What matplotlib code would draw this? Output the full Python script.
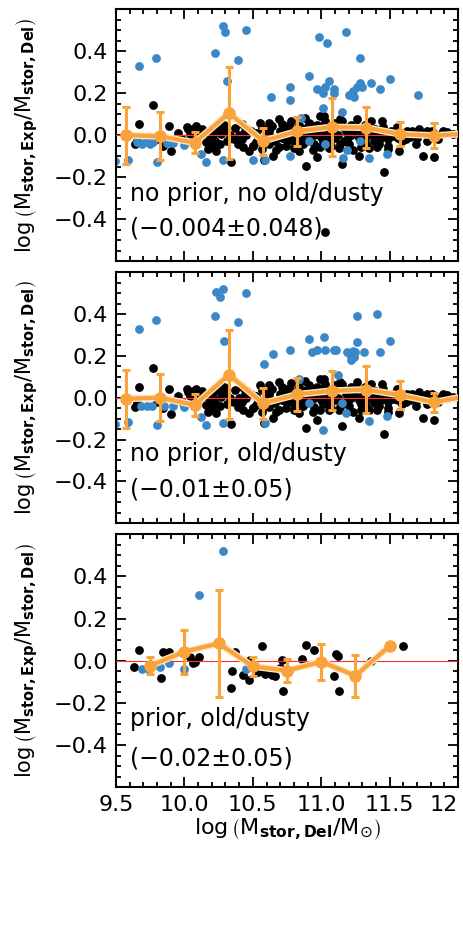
import numpy as np
import matplotlib
matplotlib.use("Agg")
import matplotlib.pyplot as plt
from matplotlib.ticker import MultipleLocator, FixedLocator, FixedFormatter

plt.rcParams['font.family'] = ['DejaVu Sans']
plt.rcParams['mathtext.fontset'] = 'dejavusans'

BLACK = '#000000'
BLUE = '#3b88c8'
ORANGE = '#f9a33a'

# black points (shared by the two "no prior" panels)
black_x = [9.636, 9.654, 9.668, 9.77, 9.844, 9.888, 9.905, 9.80, 10.027, 10.044,
           10.088, 10.117, 10.06, 10.16, 10.173, 10.198, 10.222, 10.234, 10.21, 10.25,
           10.283, 10.30, 10.31, 10.34, 10.37, 10.42, 10.395, 10.43, 10.47, 10.45,
           10.49, 10.52, 10.54, 10.566, 10.615, 10.64, 10.69, 10.71, 10.75, 10.66,
           10.69, 10.71, 10.615, 10.566, 10.65, 10.58, 10.75, 10.786, 10.81, 10.835,
           10.80, 10.885, 10.92, 10.93, 10.97, 11.005, 11.03, 11.054, 11.10, 11.14,
           10.944, 10.99, 10.97, 10.89, 11.14, 11.10, 11.054, 10.885, 10.85, 11.154,
           11.18, 11.166, 11.154, 11.264, 11.24, 11.276, 11.29, 11.276, 11.36, 11.386,
           11.435, 11.447, 11.484, 11.51, 11.557, 11.57, 11.63, 11.715, 11.776, 11.74,
           11.825, 11.92, 11.96, 11.46, 11.41, 11.484, 11.70, 11.874,
           10.95, 11.0, 11.05, 11.08, 11.12, 11.2, 11.22, 11.3, 11.33, 11.38,
           11.42, 11.47, 11.53, 11.6, 11.65, 11.8, 10.9, 10.86, 10.6, 10.63,
           10.52, 10.4, 10.36, 10.62, 10.78, 10.88, 10.99, 11.02, 11.06, 11.2,
           11.33, 11.22, 10.14, 10.19, 10.27, 10.44, 10.5, 10.73, 10.83, 11.0,
           10.42, 10.46, 10.5, 10.55, 10.58, 10.62, 10.67, 10.7, 10.74, 10.77,
           10.8, 10.84, 10.87, 10.91, 10.94, 10.97, 11.01, 11.04, 11.07, 11.1,
           11.13, 11.16, 11.19, 11.23, 11.26, 11.29, 11.32, 11.35, 11.39, 11.42,
           11.45, 11.49, 11.52, 11.55, 11.59, 11.62, 11.66, 11.69, 11.73, 11.77,
           11.81, 11.85, 11.89, 9.95, 9.98, 10.02, 10.1, 10.13, 10.2, 10.26,
           10.29, 10.33]
black_y = [-0.042, -0.027, 0.052, 0.143, -0.05, 0.042, -0.077, -0.02, 0.028, 0.008,
           0.044, 0.02, 0.03, -0.034, -0.066, -0.05, -0.027, -0.074, 0.0, 0.03,
           0.044, 0.02, -0.03, -0.127, 0.036, 0.052, -0.042, -0.058, -0.074, 0.0,
           0.02, -0.034, -0.011, 0.036, 0.02, 0.044, 0.075, 0.052, 0.044, -0.027,
           -0.058, -0.011, -0.042, -0.066, -0.097, -0.12, -0.027, -0.019, -0.042, -0.074,
           0.01, 0.036, 0.052, 0.005, 0.028, 0.044, 0.067, 0.02, 0.06, 0.075,
           -0.042, -0.058, -0.105, -0.147, -0.042, -0.011, -0.027, -0.027, -0.003, 0.067,
           0.02, -0.027, -0.136, 0.075, 0.02, -0.011, -0.058, -0.097, 0.067, -0.027,
           -0.011, 0.067, -0.019, 0.02, -0.011, -0.074, 0.02, 0.028, 0.02, -0.097,
           -0.105, 0.013, 0.005, -0.175, -0.058, -0.066, -0.011, 0.005,
           0.0, -0.01, 0.0, 0.01, 0.0, -0.005, 0.0, 0.01, -0.01, 0.0,
           0.005, 0.0, -0.005, 0.0, -0.01, 0.0, 0.01, 0.03, 0.0, -0.01,
           0.01, 0.0, -0.02, 0.06, 0.07, 0.08, 0.09, 0.09, -0.06, -0.04,
           -0.04, 0.05, 0.01, -0.01, 0.005, 0.02, -0.05, 0.03, -0.02, 0.0,
           -0.02, 0.03, -0.05, 0.06, -0.03, 0.03, -0.07, 0.02, -0.05, 0.04,
           -0.06, 0.05, -0.04, 0.06, -0.07, 0.05, -0.03, 0.03, -0.05, 0.04,
           -0.06, 0.04, -0.02, -0.07, 0.04, -0.03, 0.05, -0.06, 0.03, -0.04,
           0.04, -0.05, 0.01, 0.04, -0.03, -0.02, 0.02, -0.04, 0.01, -0.03,
           0.02, -0.02, 0.02, 0.01, -0.02, 0.04, -0.01, 0.03, 0.02, -0.04,
           0.05, 0.0]
# lone black point behind the first panel's statistic
extra1_x = [11.03]
extra1_y = [-0.46]

# blue points, panel 1
blue1_x = [9.495, 9.59, 9.67, 9.79, 9.80, 9.65, 9.72, 9.77, 9.92, 9.995,
           10.12, 10.156, 10.22, 10.28, 10.30, 10.31, 10.28, 10.39, 10.45, 10.50,
           10.59, 10.63, 10.77, 10.77, 10.77, 10.85, 10.91, 10.91, 10.98, 11.04,
           10.97, 11.01, 11.01, 11.03, 11.06, 11.09, 11.09, 11.03, 11.15, 11.18,
           11.19, 11.16, 11.20, 11.23, 11.24, 11.26, 11.28, 11.28, 11.30, 11.28,
           11.35, 11.36, 11.43, 11.48, 11.50, 11.71, 9.69, 9.75, 9.87]
blue1_y = [-0.125, -0.118, 0.33, 0.37, -0.13, -0.034, -0.027, -0.034, -0.035, -0.045,
           -0.09, -0.128, 0.39, 0.52, 0.49, 0.26, -0.118, 0.36, 0.50, -0.118,
           -0.118, 0.18, 0.23, 0.17, -0.10, 0.08, -0.03, 0.28, 0.47, 0.44,
           0.22, 0.20, 0.13, 0.23, 0.26, 0.22, 0.20, -0.04, 0.11, 0.49,
           -0.07, -0.11, 0.19, 0.21, 0.18, 0.23, 0.25, 0.37, 0.23, -0.03,
           -0.11, 0.25, 0.22, -0.09, 0.27, 0.19, -0.04, -0.04, -0.035]

# blue points, panel 2
blue2_x = [9.495, 9.59, 9.67, 9.79, 9.80, 9.68, 9.73, 9.76, 9.85, 9.92,
           9.995, 10.12, 10.16, 10.22, 10.23, 10.28, 10.26, 10.29, 10.28, 10.39,
           10.45, 10.59, 10.585, 10.65, 10.77, 10.84, 10.91, 10.91, 10.93, 10.97,
           11.02, 11.01, 11.03, 11.09, 11.11, 11.12, 11.15, 11.18, 11.19, 11.21,
           11.215, 11.23, 11.22, 11.25, 11.26, 11.24, 11.26, 11.31, 11.35, 11.41,
           11.43, 11.48, 11.50]
blue2_y = [-0.126, -0.117, 0.33, 0.37, -0.13, -0.038, -0.038, -0.038, -0.038, -0.038,
           -0.042, -0.09, -0.13, 0.39, 0.506, 0.52, 0.48, 0.27, -0.12, 0.36,
           0.50, -0.12, 0.16, 0.21, 0.23, 0.09, -0.027, 0.28, 0.22, 0.23,
           0.29, -0.153, 0.23, 0.23, 0.23, 0.11, -0.027, -0.071, 0.22, 0.21,
           0.20, 0.225, 0.18, 0.22, 0.265, 0.195, 0.39, 0.22, -0.11, 0.40,
           0.22, -0.087, 0.27]

# panel 3 points
black3_x = [9.63, 9.67, 9.83, 9.84, 9.89, 10.04, 10.06, 10.11, 10.075, 10.34,
            10.345, 10.37, 10.43, 10.47, 10.48, 10.54, 10.57, 10.59, 10.64, 10.66,
            10.70, 10.71, 10.72, 10.86, 10.89, 10.95, 11.09, 11.11, 11.12, 11.13,
            11.36, 11.60]
black3_y = [-0.032, 0.05, -0.08, 0.04, 0.04, 0.016, -0.013, 0.019, -0.008, -0.13,
            -0.05, 0.04, -0.066, -0.09, 0.003, -0.055, 0.07, -0.063, -0.068, -0.071,
            -0.035, 0.003, -0.142, 0.008, 0.076, 0.05, -0.071, 0.03, 0.02, -0.142,
            0.0, 0.07]
blue3_x = [9.69, 9.74, 9.82, 9.89, 9.995, 10.11, 10.28, 10.45]
blue3_y = [-0.04, -0.04, -0.032, -0.013, -0.04, 0.31, 0.52, -0.04]

# binned medians (orange)
bin1_x = [9.575, 9.825, 10.075, 10.325, 10.575, 10.825, 11.075, 11.325, 11.575, 11.825, 12.075]
bin1_y = [0.0, -0.005, -0.036, 0.105, -0.028, 0.019, 0.039, 0.036, 0.005, -0.002, 0.008]
bin1_e = [0.135, 0.115, 0.05, 0.218, 0.064, 0.069, 0.139, 0.097, 0.058, 0.061, 0.06]

bin2_x = bin1_x
bin2_y = [-0.005, 0.0, -0.035, 0.11, -0.027, 0.016, 0.033, 0.039, 0.013, -0.022, 0.01]
bin2_e = [0.138, 0.112, 0.053, 0.213, 0.074, 0.079, 0.093, 0.113, 0.068, 0.046, 0.05]

bin3_x = [9.75, 10.0, 10.25, 10.5, 10.75, 11.0, 11.25, 11.5]
bin3_y = [-0.024, 0.043, 0.082, -0.027, -0.047, -0.005, -0.071, 0.07]
bin3_e = [0.04, 0.105, 0.255, 0.045, 0.055, 0.085, 0.1, 0.0]

labels = ['no prior, no old/dusty', 'no prior, old/dusty', 'prior, old/dusty']
stats = ['(\u22120.004\u00b10.048)', '(\u22120.01\u00b10.05)', '(\u22120.02\u00b10.05)']
text_y = [(-0.28, -0.444), (-0.27, -0.437), (-0.277, -0.466)]

ylab = r'$\log\left(\mathrm{M}_{\mathbf{stor,Exp}}/\mathrm{M}_{\mathbf{stor,Del}}\right)$'
xlab = r'$\log\left(\mathrm{M}_{\mathbf{stor,Del}}/\mathrm{M}_{\odot}\right)$'

fig = plt.figure(figsize=(4.63, 9.26), dpi=100)
rects = [[0.2505, 0.718, 0.739, 0.272],
         [0.2505, 0.435, 0.739, 0.271],
         [0.2505, 0.150, 0.739, 0.273]]

panels = [(black_x + extra1_x, black_y + extra1_y, blue1_x, blue1_y, bin1_x, bin1_y, bin1_e),
          (black_x, black_y, blue2_x, blue2_y, bin2_x, bin2_y, bin2_e),
          (black3_x, black3_y, blue3_x, blue3_y, bin3_x, bin3_y, bin3_e)]

for i, (bx, by, ux, uy, mx, my, me) in enumerate(panels):
    ax = fig.add_axes(rects[i])
    ax.scatter(bx, by, s=40, color=BLACK, lw=0, zorder=2)
    ax.scatter(ux, uy, s=40, color=BLUE, lw=0, zorder=2)
    ax.axhline(0, color='#ff3030', lw=0.8, zorder=3)
    # light halo under the median line
    ax.plot(mx, my, color='#fde3c0', lw=5, zorder=4, solid_capstyle='round')
    ax.plot(mx, my, color=ORANGE, lw=3, zorder=4.5)
    ax.errorbar(mx, my, yerr=me, fmt='o', color=ORANGE, ms=8, elinewidth=2.2,
                capsize=3, capthick=2.2, zorder=5)

    ax.set_xlim(9.5, 12)
    ax.set_ylim(-0.6, 0.6)
    ax.yaxis.set_major_locator(FixedLocator([-0.4, -0.2, 0.0, 0.2, 0.4]))
    ax.yaxis.set_minor_locator(MultipleLocator(0.05))
    ax.xaxis.set_major_locator(MultipleLocator(0.5))
    ax.xaxis.set_minor_locator(MultipleLocator(0.1))
    ax.tick_params(which='both', direction='in', top=True, right=True, width=1.3)
    ax.tick_params(which='major', length=7, labelsize=16, pad=6)
    ax.tick_params(which='minor', length=3.5)
    ax.set_yticklabels(['\u22120.4', '\u22120.2', '0.0', '0.2', '0.4'])
    for sp in ax.spines.values():
        sp.set_linewidth(1.5)

    if i < 2:
        ax.set_xticklabels([])
    else:
        ax.xaxis.set_major_locator(FixedLocator([9.5, 10.0, 10.5, 11.0, 11.5, 12.0]))
        ax.xaxis.set_major_formatter(FixedFormatter(['9.5', '10.0', '10.5', '11.0', '11.5', '12']))
        ax.get_xticklabels()[-1].set_ha('right')

    ax.set_ylabel(ylab, fontsize=15)
    ax.yaxis.set_label_coords(-0.222, 0.5)

    ax.text(9.605, text_y[i][0], labels[i], fontsize=17, va='center', ha='left', zorder=6)
    ax.text(9.605, text_y[i][1], stats[i], fontsize=17, va='center', ha='left', zorder=6)

fig.text(287 / 463, 1 - 829 / 926, xlab, fontsize=16, ha='center', va='center')

fig.savefig('out.png', dpi=100)
